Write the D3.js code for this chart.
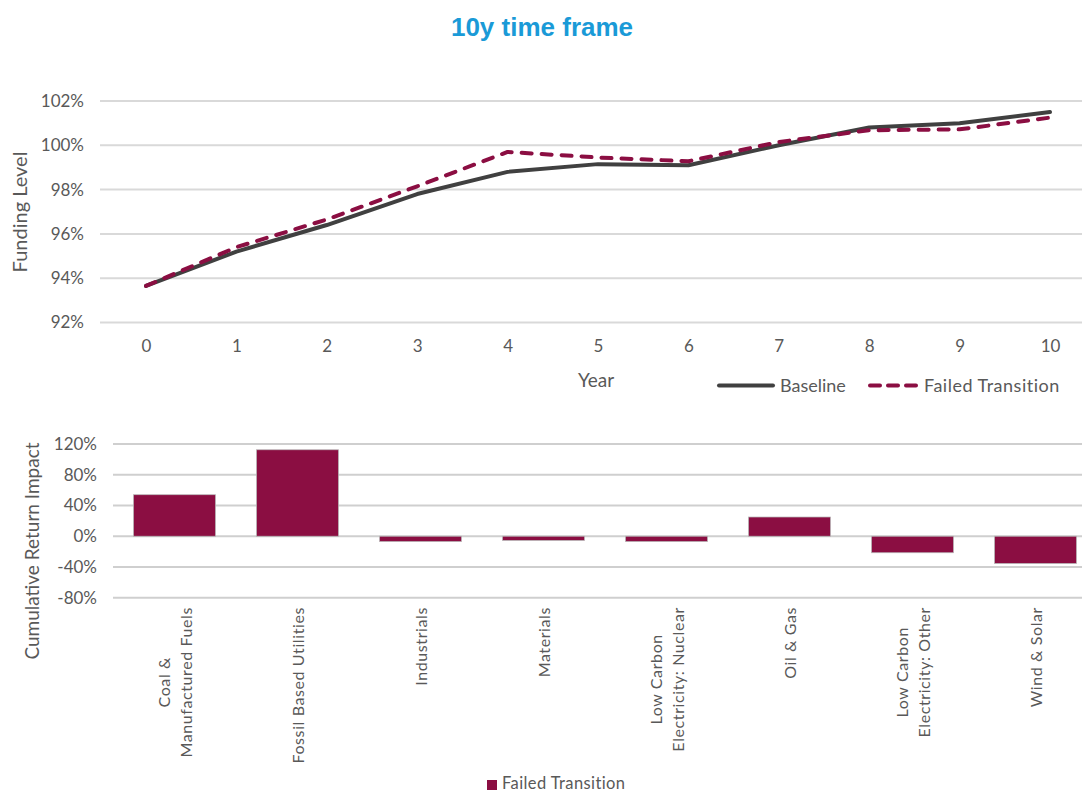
<!DOCTYPE html>
<html>
<head>
<meta charset="utf-8">
<script src="https://cdn.jsdelivr.net/npm/d3@7"></script>
<style>
  html, body { margin: 0; padding: 0; background: #fff; }
  svg { display: block; font-family: Lato, "Open Sans", sans-serif; }
</style>
</head>
<body>
<svg id="chart" width="1082" height="794"></svg>
<script>
// Funding level path over the 10-year horizon (%)
const years = [0, 1, 2, 3, 4, 5, 6, 7, 8, 9, 10];
const baseline = [93.65, 95.2, 96.4, 97.8, 98.8, 99.15, 99.1, 100.0, 100.8, 101.0, 101.5];
const failedTransition = [93.65, 95.4, 96.65, 98.15, 99.7, 99.45, 99.28, 100.15, 100.68, 100.72, 101.25];
const fundingTicks = [92, 94, 96, 98, 100, 102];

// Cumulative return impact by sector under the failed transition (%)
const sectors = [
  ["Coal &", "Manufactured Fuels"],
  ["Fossil Based Utilities"],
  ["Industrials"],
  ["Materials"],
  ["Low Carbon", "Electricity: Nuclear"],
  ["Oil & Gas"],
  ["Low Carbon", "Electricity: Other"],
  ["Wind & Solar"]
];
const sectorImpact = [54, 112.5, -7, -5.5, -7, 25, -21.5, -35.5];
const impactTicks = [-80, -40, 0, 40, 80, 120];

const MAROON = "#8b0e42";
const DARK = "#404040";
const TEXT = "#595959";
const GRID = "#d9d9d9";

const svg = d3.select("#chart");

// Title
svg.append("text")
  .attr("x", 542).attr("y", 36)
  .attr("text-anchor", "middle")
  .attr("font-family", "'Liberation Sans', Arial, sans-serif")
  .attr("font-weight", "bold")
  .attr("font-size", 26)
  .attr("fill", "#1a9ad7")
  .text("10y time frame");

// ---------- Top panel: funding level lines ----------
const x = d3.scalePoint().domain(years).range([146, 1050]);
const y = d3.scaleLinear().domain([92, 102]).range([322.5, 101]);

const linePanel = svg.append("g");

linePanel.append("g")
  .selectAll("line")
  .data(fundingTicks)
  .join("line")
  .attr("x1", 100).attr("x2", 1082)
  .attr("y1", d => y(d)).attr("y2", d => y(d))
  .attr("stroke", GRID).attr("stroke-width", 2);

const yAxisTop = d3.axisLeft(y).tickValues(fundingTicks)
  .tickFormat(d => d + "%").tickSize(0).tickPadding(0);
linePanel.append("g")
  .attr("transform", "translate(84,0)")
  .call(yAxisTop)
  .call(g => g.select(".domain").remove())
  .selectAll("text")
  .attr("font-family", "Lato, sans-serif")
  .attr("font-size", 17).attr("fill", TEXT);

const xAxisTop = d3.axisBottom(x).tickSize(0).tickPadding(0);
linePanel.append("g")
  .attr("transform", "translate(0,340)")
  .call(xAxisTop)
  .call(g => g.select(".domain").remove())
  .selectAll("text")
  .attr("font-family", "Lato, sans-serif")
  .attr("font-size", 17).attr("fill", TEXT);

linePanel.append("text")
  .attr("x", 596).attr("y", 387)
  .attr("text-anchor", "middle")
  .attr("font-size", 19).attr("fill", TEXT)
  .text("Year");

linePanel.append("text")
  .attr("transform", "translate(27,212) rotate(-90)")
  .attr("text-anchor", "middle")
  .attr("font-size", 20).attr("fill", TEXT)
  .text("Funding Level");

const line = d3.line().x((d, i) => x(years[i])).y(d => y(d));

linePanel.append("path")
  .datum(baseline)
  .attr("d", line)
  .attr("fill", "none")
  .attr("stroke", DARK).attr("stroke-width", 4)
  .attr("stroke-linejoin", "round").attr("stroke-linecap", "round");

linePanel.append("path")
  .datum(failedTransition)
  .attr("d", line)
  .attr("fill", "none")
  .attr("stroke", MAROON).attr("stroke-width", 4)
  .attr("stroke-dasharray", "10,10")
  .attr("stroke-linejoin", "round").attr("stroke-linecap", "round");

// Legend for the line panel
const lg = linePanel.append("g");
lg.append("line")
  .attr("x1", 719).attr("x2", 773).attr("y1", 385.5).attr("y2", 385.5)
  .attr("stroke", DARK).attr("stroke-width", 4).attr("stroke-linecap", "round");
lg.append("text")
  .attr("x", 780).attr("y", 392)
  .attr("font-size", 18).attr("fill", TEXT)
  .text("Baseline");
lg.append("line")
  .attr("x1", 870).attr("x2", 920).attr("y1", 385.5).attr("y2", 385.5)
  .attr("stroke", MAROON).attr("stroke-width", 4)
  .attr("stroke-dasharray", "10,8").attr("stroke-linecap", "round");
lg.append("text")
  .attr("x", 924).attr("y", 392)
  .attr("font-size", 18).attr("letter-spacing", 0.5).attr("fill", TEXT)
  .text("Failed Transition");

// ---------- Bottom panel: sector bars ----------
const xb = d3.scaleBand()
  .domain(d3.range(sectors.length))
  .range([113, 1097])
  .paddingInner(1 / 3)
  .paddingOuter(1 / 6);
const yb = d3.scaleLinear().domain([-80, 120]).range([597.7, 444]);

const barPanel = svg.append("g");

barPanel.append("g")
  .selectAll("line")
  .data(impactTicks)
  .join("line")
  .attr("x1", 113).attr("x2", 1082)
  .attr("y1", d => yb(d)).attr("y2", d => yb(d))
  .attr("stroke", "#cfcfcf").attr("stroke-width", 2);

const yAxisBot = d3.axisLeft(yb).tickValues(impactTicks)
  .tickFormat(d => d + "%").tickSize(0).tickPadding(0);
barPanel.append("g")
  .attr("transform", "translate(97,0)")
  .call(yAxisBot)
  .call(g => g.select(".domain").remove())
  .selectAll("text")
  .attr("font-family", "Lato, sans-serif")
  .attr("font-size", 17).attr("fill", TEXT);

barPanel.append("text")
  .attr("transform", "translate(39,551) rotate(-90)")
  .attr("text-anchor", "middle")
  .attr("font-size", 19).attr("fill", TEXT)
  .text("Cumulative Return Impact");

barPanel.append("g")
  .selectAll("rect")
  .data(sectorImpact)
  .join("rect")
  .attr("x", (d, i) => xb(i))
  .attr("width", xb.bandwidth())
  .attr("y", d => yb(Math.max(0, d)))
  .attr("height", d => Math.abs(yb(d) - yb(0)))
  .attr("fill", MAROON)
  .attr("stroke", "#b8b8b8").attr("stroke-width", 0.75);

// Rotated sector labels, each block top-aligned under the axis
const labelTop = 607;
const lineGap = 22;
const labels = barPanel.append("g");
sectors.forEach((lines, i) => {
  const cx = xb(i) + xb.bandwidth() / 2;
  const g = labels.append("g");
  const texts = lines.map(t => g.append("text")
    .attr("font-size", 16).attr("letter-spacing", 0.6).attr("fill", TEXT)
    .attr("text-anchor", "middle")
    .text(t));
  const maxLen = d3.max(texts, t => t.node().getComputedTextLength());
  const cy = labelTop + maxLen / 2;
  const n = lines.length;
  texts.forEach((t, k) => {
    const off = (k - (n - 1) / 2) * lineGap;
    t.attr("transform", `translate(${cx + off + 6},${cy}) rotate(-90)`);
  });
});

// Legend for the bar panel
barPanel.append("rect")
  .attr("x", 487).attr("y", 780).attr("width", 10).attr("height", 10)
  .attr("fill", MAROON);
barPanel.append("text")
  .attr("x", 502).attr("y", 789)
  .attr("font-size", 16.5).attr("letter-spacing", 0.4).attr("fill", TEXT)
  .text("Failed Transition");
</script>
</body>
</html>
